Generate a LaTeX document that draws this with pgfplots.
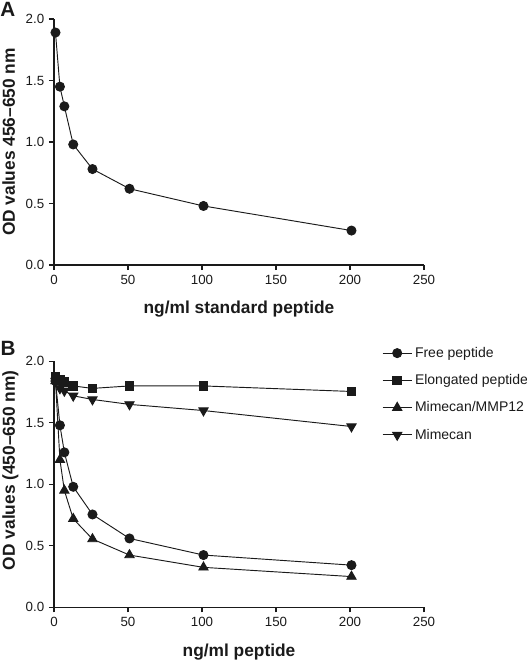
\documentclass[border=0pt]{standalone}
\usepackage{pgfplots}
\pgfplotsset{compat=1.18}
\usepackage{fontspec}
\setmainfont{Liberation Sans}
\definecolor{ink}{HTML}{1A1A1A}
\pgfplotsset{
  common/.style={
    scale only axis, width=277.5pt, height=184.5pt,
    xmin=0, xmax=250, ymin=0, ymax=2.0,
    axis lines=left, axis line style={-, line width=0.8pt, color=ink},
    tick style={line width=0.8pt, color=ink},
    tick align=outside, major tick length=3.8pt,
    xtick={0,50,100,150,200,250}, ytick={0,0.5,1.0,1.5,2.0},
    yticklabel style={/pgf/number format/.cd, fixed, fixed zerofill, precision=1},
    /pgf/number format/assume math mode=true,
    tick label style={font=\fontsize{10}{11}\selectfont, color=ink},
    label style={font=\bfseries\fontsize{13}{15}\selectfont, color=ink},
    xlabel style={at={(axis description cs:0.5,0)}, anchor=base, yshift=-36.75pt},
    clip=false,
  },
  ser/.style={color=ink, line width=0.7pt, mark options={solid, fill=ink}},
}
\begin{document}
\begin{tikzpicture}[x=1pt,y=1pt]
\useasboundingbox (0,0) rectangle (395.25,496.5);
\begin{axis}[common, at={(40.5pt,297.75pt)}, anchor=south west,
  xlabel={ng/ml standard peptide}, ylabel={OD values 456–650 nm},
  ylabel style={at={(axis description cs:0,0.5)}, anchor=base, yshift=29.25pt}]
\addplot[ser, mark=*, mark size=3.4pt] coordinates {
(1,1.89) (4,1.45) (7,1.29) (13,0.98) (26,0.78) (51,0.62) (101,0.48) (201,0.28)};
\end{axis}
\node[font=\bfseries\fontsize{15.5}{17}\selectfont, color=ink] at (5.8,489.4) {A};
\begin{axis}[common, at={(40.5pt,41.0pt)}, anchor=south west,
  xlabel={ng/ml peptide}, ylabel={OD values (450–650 nm)},
  ylabel style={at={(axis description cs:0,0.557)}, anchor=base, yshift=29.25pt},
  legend style={at={(axis description cs:0.886,1.07)}, anchor=north west, draw=none, fill=none,
    font=\fontsize{10.5}{12}\selectfont, row sep=7.35pt, inner sep=0pt, cells={anchor=west}, text=ink},
  legend cell align=left,
  legend image code/.code={\draw[#1, mark repeat=2, mark phase=2] plot coordinates {(0pt,0pt) (11pt,0pt) (22pt,0pt)};}]
\addplot[ser, mark=*, mark size=3.4pt] coordinates {
(1,1.84) (4,1.48) (7,1.26) (13,0.98) (26,0.755) (51,0.56) (101,0.425) (201,0.343)};
\addlegendentry{Free peptide}
\addplot[ser, mark=square*, mark size=3.3pt] coordinates {
(1,1.87) (4,1.85) (7,1.83) (13,1.80) (26,1.78) (51,1.80) (101,1.80) (201,1.755)};
\addlegendentry{Elongated peptide}
\addplot[ser, mark=triangle*, mark size=4pt] coordinates {
(1,1.84) (4,1.20) (7,0.95) (13,0.72) (26,0.555) (51,0.425) (101,0.325) (201,0.25)};
\addlegendentry{Mimecan/MMP12}
\addplot[ser, mark=triangle*, mark size=4pt, mark options={rotate=180}] coordinates {
(1,1.84) (4,1.78) (7,1.76) (13,1.72) (26,1.69) (51,1.65) (101,1.60) (201,1.47)};
\addlegendentry{Mimecan}
\end{axis}
\node[font=\bfseries\fontsize{15.5}{17}\selectfont, color=ink] at (6,235.1) {B};
\end{tikzpicture}
\end{document}
